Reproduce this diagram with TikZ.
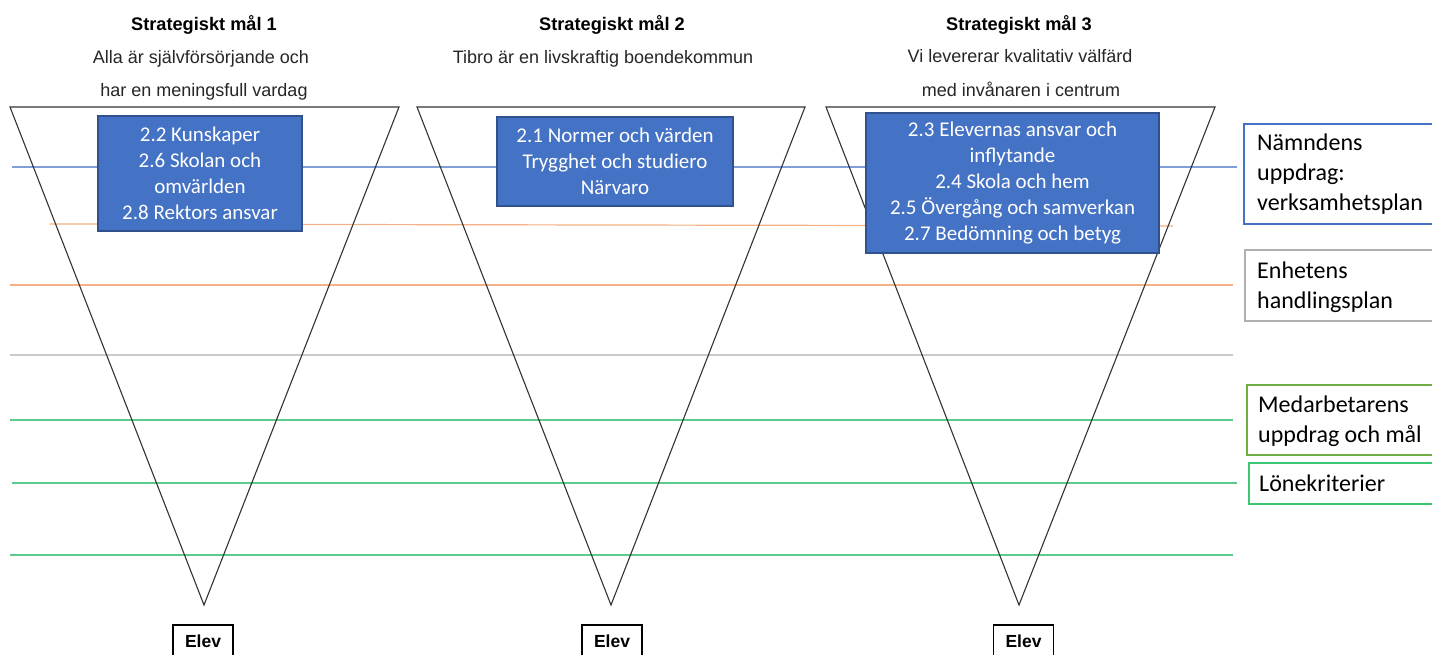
\documentclass[tikz,border=0pt]{standalone}
\usepackage{fontspec}
\setmainfont{Liberation Sans}
\newfontfamily\calib{Carlito}
\definecolor{boxblue}{HTML}{4472C4}
\definecolor{boxedge}{HTML}{2F528F}
\definecolor{lblue}{HTML}{7F9FD6}
\definecolor{lorange}{HTML}{F4B183}
\definecolor{lgray}{HTML}{C9C9C9}
\definecolor{lgreen}{HTML}{5CCB8E}
\definecolor{medgreen}{HTML}{70AD47}
\definecolor{lkgreen}{HTML}{3CC873}
\definecolor{lblgray}{HTML}{AFAFAF}
\begin{document}
\begin{tikzpicture}[x=1pt,y=-1pt,
  titlestyle/.style={font=\fontsize{18.2}{20}\selectfont\bfseries, anchor=base, inner sep=0pt},
  substyle/.style={font=\fontsize{18}{20}\selectfont, anchor=base, inner sep=0pt, text=black!85},
  goalbox/.style={fill=boxblue, draw=boxedge, line width=1.2pt, text=white, align=center,
    font=\calib\fontsize{21}{26}\selectfont, inner sep=0pt},
  levelframe/.style={line width=1.6pt, anchor=north west, minimum width=220pt, inner sep=0pt},
  leveltext/.style={anchor=west, align=left, inner sep=0pt, font=\calib\fontsize{24}{30}\selectfont},
  levelline/.style={draw=#1, line width=1.2pt},
  vtri/.style={draw=black!80, line width=1.1pt, line join=miter},
  elevbox/.style={draw=black, line width=1.6pt, minimum width=60pt, minimum height=32pt,
    inner sep=0pt, font=\fontsize{17.5}{20}\selectfont\bfseries}
]
\useasboundingbox (0,0) rectangle (1432,655);
\fill[white] (0,0) rectangle (1432,655);

% horizontal level lines
\draw[levelline=lblue] (12,167) -- (1237,167);
\draw[levelline=lorange] (50,224) -- (1173,226);
\draw[levelline=lorange] (10,285) -- (1233,285);
\draw[levelline=lgray] (10,355) -- (1233,355);
\draw[levelline=lgreen] (10,420) -- (1233,420);
\draw[levelline=lgreen] (12,483) -- (1237,483);
\draw[levelline=lgreen] (10,555) -- (1233,555);

% inverted triangles
\draw[vtri] (10,107) -- (399,107) -- (204,605) -- cycle;
\draw[vtri] (417,107) -- (805,107) -- (611,605) -- cycle;
\draw[vtri] (826,107) -- (1215,107) -- (1019,605) -- cycle;

% titles
\node[titlestyle] (t1) at (204,31) {Strategiskt mål 1};
\node[substyle] (s1a) at (201,64) {Alla är självförsörjande och};
\node[substyle] (s1b) at (204,97) {har en meningsfull vardag};
\node[titlestyle] (t2) at (612,31) {Strategiskt mål 2};
\node[substyle] (s2a) at (603,64) {Tibro är en livskraftig boendekommun};
\node[titlestyle] (t3) at (1019,31) {Strategiskt mål 3};
\node[substyle] (s3a) at (1020,63) {Vi levererar kvalitativ välfärd};
\node[substyle] (s3b) at (1021,97) {med invånaren i centrum};

% goal boxes
\node[goalbox, minimum width=204pt, minimum height=115pt] (g1) at (200,173.5)
  {2.2 Kunskaper\\2.6 Skolan och\\omvärlden\\2.8 Rektors ansvar};
\node[goalbox, minimum width=236pt, minimum height=89pt] (g2) at (615,161.5)
  {2.1 Normer och värden\\Trygghet och studiero\\Närvaro};
\node[goalbox, minimum width=293pt, minimum height=140pt] (g3) at (1012.5,183)
  {2.3 Elevernas ansvar och\\inflytande\\2.4 Skola och hem\\2.5 Övergång och samverkan\\2.7 Bedömning och betyg};

% level labels
\node[levelframe, draw=boxblue, minimum height=100pt] (f1) at (1243,123) {};
\node[leveltext] (l1) at (1257,174) {Nämndens\\uppdrag:\\verksamhetsplan};
\node[levelframe, draw=lblgray, minimum height=71pt] (f2) at (1244,249) {};
\node[leveltext] (l2) at (1257,287) {Enhetens\\handlingsplan};
\node[levelframe, draw=medgreen, minimum height=70pt] (f3) at (1246,384) {};
\node[leveltext] (l3) at (1258,421) {Medarbetarens\\uppdrag och mål};
\node[levelframe, draw=lkgreen, minimum height=41pt] (f4) at (1248,462) {};
\node[leveltext] (l4) at (1259,483) {Lönekriterier};

% Elev boxes
\node[elevbox] (e1) at (203,641) {Elev};
\node[elevbox] (e2) at (612,641) {Elev};
\node[elevbox] (e3) at (1023.5,641) {Elev};
\end{tikzpicture}
\end{document}
